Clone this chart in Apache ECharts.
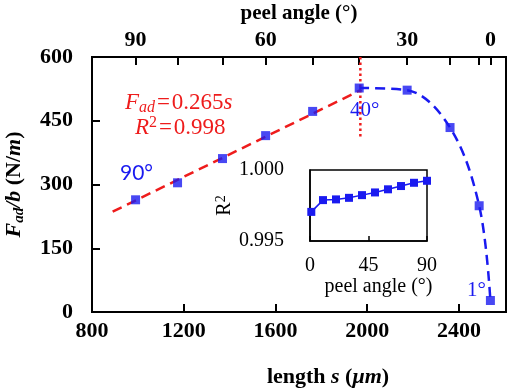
<!DOCTYPE html>
<html>
<head>
<meta charset="utf-8">
<script src="https://cdn.jsdelivr.net/npm/echarts@6.0.0/dist/echarts.min.js"></script>
<style>
html, body { margin: 0; padding: 0; background: #fff; }
#chart { width: 510px; height: 388px; }
</style>
</head>
<body>
<div id="chart"></div>
<script>
// main plot: F_ad/b against length s
let lengthS = [990, 1173, 1369, 1557, 1762, 1965, 2174, 2361, 2488, 2537];
let forceVals = [264, 304, 361, 415, 472, 527, 522, 434, 250, 27];
let bottomTicks = [800, 1200, 1600, 2000, 2400];
// top axis: peel angle, labels sit on matching lengths
let topLabelS = [990, 1557, 2174, 2537];
let topLabelText = ["90", "60", "30", "0"];
// linear fit F = 0.265 s (its two ends)
let fitS = [890, 1975];
let fitF = [236, 523];
// red dotted marker at 40°
let markS = 1970;
let markF = [600, 412];
// inset: R^2 vs peel angle
let insetAngle = [1, 10, 20, 30, 40, 50, 60, 70, 80, 90];
let insetR2 = [0.99705, 0.99788, 0.99793, 0.99804, 0.99823, 0.99842, 0.99864, 0.99887, 0.99910, 0.99924];
let insetYLabels = [0.995, 1.0];

let blue = "#1a1af0";
let red = "#ee1c1c";
let serif = "Liberation Serif";

let boldRich = {
    b: {fontFamily: serif, fontWeight: "bold", fontSize: 22, lineHeight: 26, color: "#000"},
    bi: {fontFamily: serif, fontWeight: "bold", fontStyle: "italic", fontSize: 22, lineHeight: 26, color: "#000"},
    sub: {fontFamily: serif, fontWeight: "bold", fontStyle: "italic", fontSize: 15, lineHeight: 10, verticalAlign: "bottom", color: "#000"}
};

let curveData = [];
for (let i = 5; i < lengthS.length; i++) curveData.push([lengthS[i], forceVals[i]]);

let chart = echarts.init(document.getElementById("chart"));
let option = {
    animation: false,
    grid: [
        {left: 92, top: 57, right: 4, bottom: 76, show: true, borderColor: "#000", borderWidth: 2, outerBoundsMode: "none"},
        {left: 310, top: 170, width: 117, height: 71, show: true, borderColor: "#000", borderWidth: 1.5, outerBoundsMode: "none"}
    ],
    xAxis: [
        {
            gridIndex: 0, type: "value", position: "bottom", min: 800, max: 2605,
            axisLine: {lineStyle: {color: "#000", width: 2}},
            axisTick: {inside: true, length: 8, customValues: bottomTicks, lineStyle: {color: "#000", width: 2}},
            axisLabel: {
                customValues: bottomTicks, margin: 8, color: "#000", fontFamily: serif, fontWeight: "bold", fontSize: 22,
                formatter: v => String(v)
            },
            splitLine: {show: false},
            name: "{b|length }{bi|s}{b| (}{bi|μm}{b|)}",
            nameLocation: "middle", nameGap: 52,
            nameTextStyle: {padding: [0, 0, 0, 58], rich: boldRich}
        },
        {
            gridIndex: 0, type: "value", position: "top", min: 800, max: 2605,
            axisLine: {lineStyle: {color: "#000", width: 2}},
            axisTick: {inside: true, length: 8, customValues: lengthS, lineStyle: {color: "#000", width: 2}},
            axisLabel: {
                customValues: topLabelS, margin: 6, color: "#000", fontFamily: serif, fontWeight: "bold", fontSize: 22,
                formatter: v => topLabelText[topLabelS.indexOf(v)]
            },
            splitLine: {show: false},
            name: "peel angle (°)",
            nameLocation: "middle", nameGap: 29,
            nameTextStyle: {color: "#000", fontFamily: serif, fontWeight: "bold", fontSize: 21}
        },
        {
            gridIndex: 1, type: "value", min: 0, max: 90, interval: 45,
            axisLine: {lineStyle: {color: "#000", width: 1.5}},
            axisTick: {inside: true, length: 5, lineStyle: {color: "#000", width: 1.5}},
            axisLabel: {margin: 15, color: "#000", fontFamily: serif, fontSize: 20},
            splitLine: {show: false},
            name: "peel angle (°)",
            nameLocation: "middle", nameGap: 33,
            nameTextStyle: {color: "#000", fontFamily: serif, fontSize: 20, padding: [0, 0, 0, 20]}
        }
    ],
    yAxis: [
        {
            gridIndex: 0, type: "value", min: 0, max: 600, interval: 150,
            axisLine: {lineStyle: {color: "#000", width: 2}},
            axisTick: {inside: true, length: 8, lineStyle: {color: "#000", width: 2}},
            axisLabel: {margin: 19, color: "#000", fontFamily: serif, fontWeight: "bold", fontSize: 22},
            splitLine: {show: false},
            name: "{bi|F}{sub|ad}{bi|/b}{b| (N/}{bi|m}{b|)}",
            nameLocation: "middle", nameGap: 65,
            nameTextStyle: {rich: boldRich}
        },
        {
            gridIndex: 1, type: "value", min: 0.995, max: 1.0,
            axisLine: {lineStyle: {color: "#000", width: 1.5}},
            axisTick: {show: false},
            axisLabel: {
                customValues: insetYLabels, margin: 26, color: "#000", fontFamily: serif, fontSize: 20,
                formatter: v => v.toFixed(3)
            },
            splitLine: {show: false},
            name: "{n|R}{sup|2}",
            nameLocation: "middle", nameGap: 26,
            nameTextStyle: {
                rich: {
                    n: {fontFamily: serif, fontSize: 20, lineHeight: 22, color: "#000"},
                    sup: {fontFamily: serif, fontSize: 14, lineHeight: 10, verticalAlign: "top", color: "#000"}
                }
            }
        }
    ],
    graphic: [
        {
            type: "text", x: 125, y: 103,
            style: {
                text: "{i|F}{s|ad}{n|\u200a=\u200a0.265}{i|s}", verticalAlign: "middle", fill: red,
                rich: {
                    i: {fontFamily: serif, fontStyle: "italic", fontSize: 23, lineHeight: 26, fill: red},
                    n: {fontFamily: serif, fontSize: 23, lineHeight: 26, fill: red},
                    s: {fontFamily: serif, fontStyle: "italic", fontSize: 16, lineHeight: 10, verticalAlign: "bottom", fill: red}
                }
            }
        },
        {
            type: "text", x: 135, y: 128,
            style: {
                text: "{i|R}{p|2}{n|\u200a=\u200a0.998}", verticalAlign: "middle", fill: red,
                rich: {
                    i: {fontFamily: serif, fontStyle: "italic", fontSize: 23, lineHeight: 26, fill: red},
                    n: {fontFamily: serif, fontSize: 23, lineHeight: 26, fill: red},
                    p: {fontFamily: serif, fontSize: 16, lineHeight: 10, verticalAlign: "top", fill: red}
                }
            }
        },
        {type: "text", x: 120, y: 173, style: {text: "90°", fill: blue, font: "21px Lato", verticalAlign: "middle"}},
        {type: "text", x: 350, y: 110, style: {text: "40°", fill: blue, font: "21px 'Liberation Serif'", verticalAlign: "middle"}},
        {type: "text", x: 467, y: 290, style: {text: "1°", fill: blue, font: "21px 'Liberation Serif'", verticalAlign: "middle"}}
    ],
    series: [
        {
            type: "line", xAxisIndex: 0, yAxisIndex: 0, symbol: "none",
            data: fitS.map((s, i) => [s, fitF[i]]),
            lineStyle: {color: red, width: 2.5, type: [10, 6]}
        },
        {
            type: "line", xAxisIndex: 0, yAxisIndex: 0, symbol: "none", smooth: 0.35,
            data: curveData,
            lineStyle: {color: blue, width: 2.5, type: [10, 6]}
        },
        {
            type: "line", xAxisIndex: 0, yAxisIndex: 0, symbol: "none",
            data: markF.map(f => [markS, f]),
            lineStyle: {color: red, width: 2.5, type: [2.5, 3]}
        },
        {
            type: "scatter", xAxisIndex: 0, yAxisIndex: 0, symbol: "rect", symbolSize: 9, z: 5,
            data: lengthS.map((s, i) => [s, forceVals[i]]),
            itemStyle: {color: blue}
        },
        {
            type: "line", xAxisIndex: 2, yAxisIndex: 1, symbol: "rect", symbolSize: 8,
            data: insetAngle.map((a, i) => [a, insetR2[i]]),
            itemStyle: {color: blue},
            lineStyle: {color: blue, width: 1.5}
        }
    ]
};
option && chart.setOption(option);
</script>
</body>
</html>
